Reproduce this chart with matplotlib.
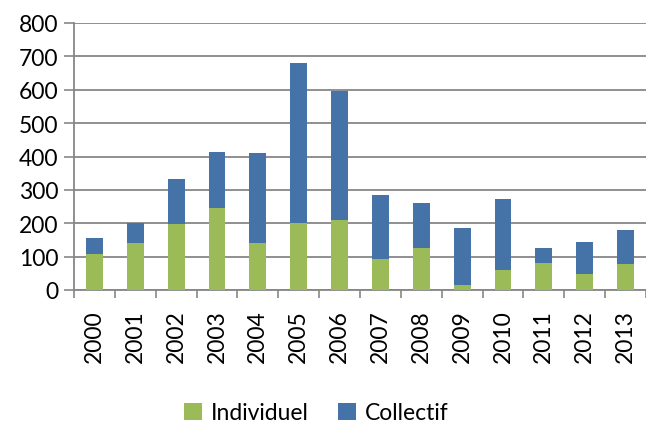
import numpy as np
import matplotlib.pyplot as plt

years = [str(y) for y in range(2000, 2014)]
individuel = [107, 140, 199, 245, 140, 201, 211, 93, 127, 14, 59, 82, 49, 77]
totals = [157, 201, 334, 414, 410, 681, 597, 286, 261, 186, 273, 127, 145, 179]
collectif = [t - i for t, i in zip(totals, individuel)]

GREEN = '#9BBB59'
BLUE = '#4572A7'
GRID = '#878787'

plt.rcParams['font.family'] = ['Lato', 'DejaVu Sans']

fig = plt.figure(figsize=(6.46, 4.27), dpi=100)
ax = fig.add_axes([74 / 646, 1 - 291 / 427, 572 / 646, 267 / 427])

x = np.arange(len(years))
ax.bar(x, individuel, width=0.41, color=GREEN, label='Individuel', zorder=3)
ax.bar(x, collectif, width=0.41, bottom=individuel, color=BLUE,
       label='Collectif', zorder=3)

ax.set_xlim(-0.5, len(years) - 0.5)
ax.set_ylim(0, 800)
ax.set_yticks(range(0, 801, 100))
ax.yaxis.grid(True, color=GRID, linewidth=1.3, zorder=0)
ax.tick_params(axis='y', length=7, width=1.2, color=GRID, labelsize=16.5, pad=4)

# year labels under bars, tick marks between categories
ax.set_xticks(x)
ax.set_xticklabels(years, rotation=90, fontsize=16.5)
ax.tick_params(axis='x', which='major', length=0, pad=14)
ax.set_xticks(np.arange(-0.5, len(years)), minor=True)
ax.tick_params(axis='x', which='minor', length=6, width=1.2, color=GRID)

for side in ['top', 'right']:
    ax.spines[side].set_visible(False)
for side in ['left', 'bottom']:
    ax.spines[side].set_color(GRID)
    ax.spines[side].set_linewidth(1.3)

fig.legend(loc='center', bbox_to_anchor=(0.49, 1 - 414 / 427), ncol=2,
           frameon=False, fontsize=16.5, handlelength=0.75, handleheight=0.75,
           handletextpad=0.4, columnspacing=1.3)

fig.savefig('out.png', dpi=100)
